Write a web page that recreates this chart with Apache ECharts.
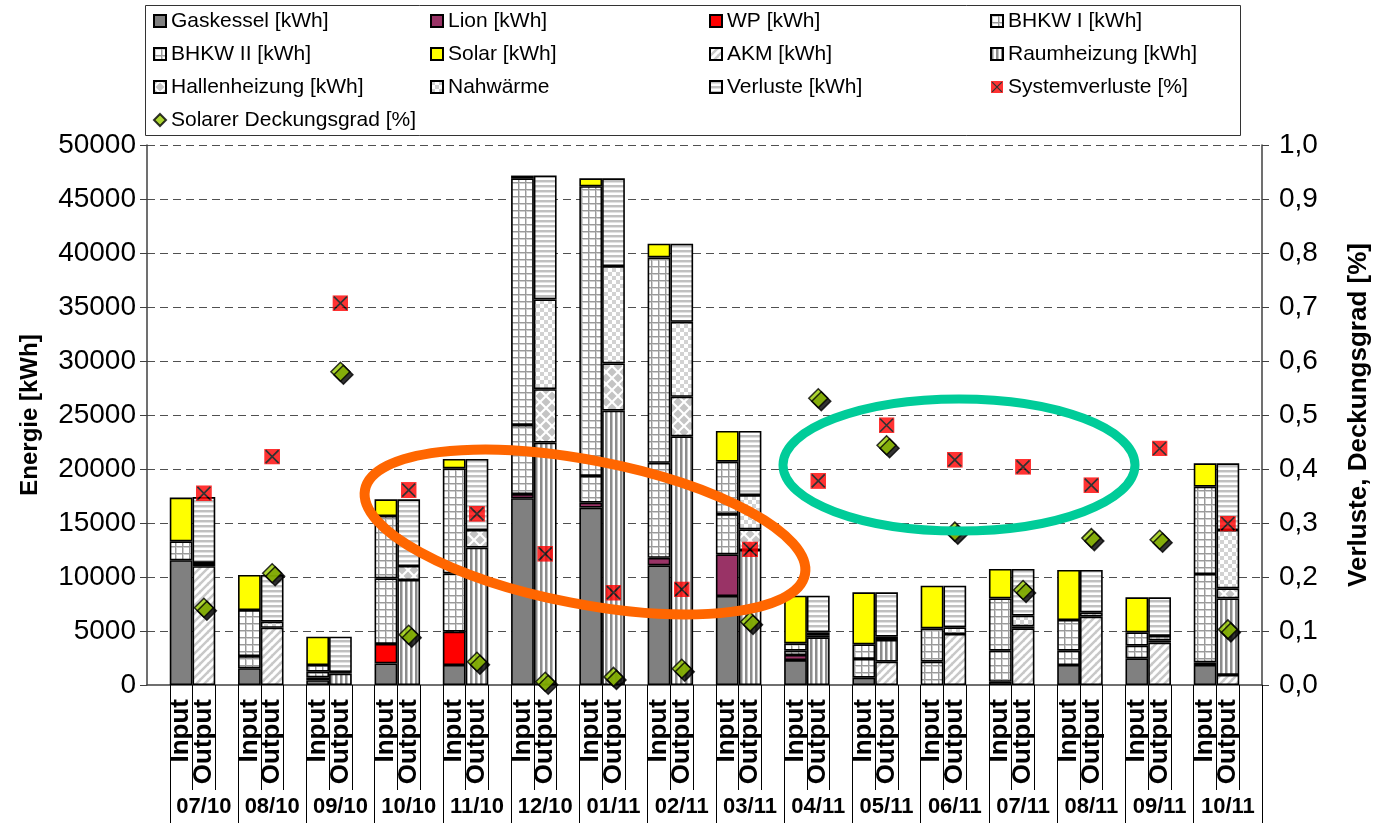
<!DOCTYPE html>
<html>
<head>
<meta charset="utf-8">
<script src="https://cdn.jsdelivr.net/npm/echarts@6/dist/echarts.min.js"></script>
<style>
  html, body { margin: 0; padding: 0; background: #fff; }
  #chart { width: 1380px; height: 823px; }
</style>
</head>
<body>
<div id="chart"></div>
<script>
// Monthly energy balance: inputs and outputs per month (kWh), plus loss / solar ratios
const months = ['07/10', '08/10', '09/10', '10/10', '11/10', '12/10', '01/11', '02/11',
                '03/11', '04/11', '05/11', '06/11', '07/11', '08/11', '09/11', '10/11'];

// Input side (kWh)
const gaskessel = [11550, 1550, 450, 2000, 1850, 17290, 16430, 11080, 8240, 2310, 680, 0, 300, 1850, 2470, 1850];
const lion      = [0, 0, 0, 0, 0, 390, 450, 700, 3860, 470, 0, 0, 0, 0, 0, 250];
const wp        = [0, 0, 250, 1800, 3090, 0, 0, 0, 0, 0, 0, 0, 0, 0, 0, 0];
const bhkw1     = [1750, 1130, 530, 6080, 5400, 6400, 2480, 8790, 3730, 400, 1730, 2160, 2880, 1330, 1170, 8180];
const bhkw2     = [0, 4260, 620, 5770, 9720, 22830, 26820, 19020, 4850, 680, 1360, 3090, 4840, 2840, 1240, 8080];
const solar     = [4050, 3250, 2620, 1540, 870, 260, 730, 1270, 2840, 4410, 4810, 3940, 2720, 4630, 3240, 2170];

// Output side (kWh)
const akm        = [11000, 5300, 0, 0, 0, 0, 0, 0, 0, 0, 2160, 4720, 5250, 6330, 3920, 930];
const raumheizung = [0, 0, 1050, 9720, 12720, 22450, 25410, 23030, 12500, 4410, 2010, 0, 0, 0, 0, 7090];
const hallenheizung = [0, 0, 0, 1300, 1630, 4940, 4370, 3660, 1910, 200, 0, 0, 170, 0, 220, 930];
const nahwaerme  = [300, 560, 150, 0, 0, 8310, 9010, 6940, 3180, 270, 300, 620, 1000, 370, 400, 5400];
const verluste   = [6100, 4330, 3270, 6170, 6580, 11470, 8120, 7230, 5930, 3390, 4110, 3850, 4320, 3950, 3580, 6180];

// Ratios (right axis)
const systemverluste = [0.355, 0.423, 0.707, 0.361, 0.317, 0.243, 0.171, 0.177, 0.251, 0.378, 0.481, 0.417, 0.404, 0.370, 0.438, 0.299];
const deckungsgrad   = [0.143, 0.207, 0.580, 0.093, 0.043, 0.006, 0.015, 0.030, 0.117, 0.531, 0.444, 0.284, 0.176, 0.272, 0.269, 0.103];

const subLabelNames = ['Input', 'Output'];

// Category slots: a blank spacer, then Input / Output / spacer for every month
const slots = [''];
const monthSlots = [''];
months.forEach(m => {
  slots.push(subLabelNames[0], subLabelNames[1], '');
  monthSlots.push('', m, '');
});

function place(values, offset) {
  const out = new Array(slots.length).fill('-');
  values.forEach((v, k) => { out[3 * k + offset] = v === 0 ? '-' : v; });
  return out;
}

// Fill patterns drawn on small tiles
function tile(w, h, draw) {
  const c = document.createElement('canvas');
  c.width = w; c.height = h;
  const ctx = c.getContext('2d');
  ctx.fillStyle = '#ffffff';
  ctx.fillRect(0, 0, w, h);
  draw(ctx, w, h);
  return { image: c, repeat: 'repeat' };
}
const gridFill = tile(7, 7, ctx => {
  ctx.fillStyle = '#cfcfcf'; ctx.fillRect(0, 1, 7, 1); ctx.fillRect(1, 0, 1, 7);
  ctx.fillStyle = '#9a9a9a'; ctx.fillRect(0, 0, 7, 1); ctx.fillRect(0, 0, 1, 7);
});
const vertFill = tile(5, 5, ctx => {
  ctx.fillStyle = '#8c8c8c'; ctx.fillRect(0, 0, 2, 5);
  ctx.fillStyle = '#c4c4c4'; ctx.fillRect(2, 0, 1, 5);
});
const horizFill = tile(5, 5, ctx => {
  ctx.fillStyle = '#c0c0c0'; ctx.fillRect(0, 0, 5, 2);
  ctx.fillStyle = '#e2e2e2'; ctx.fillRect(0, 2, 5, 1);
});
const checkFill = tile(8, 8, ctx => {
  ctx.fillStyle = '#d2d2d2'; ctx.fillRect(0, 0, 4, 4); ctx.fillRect(4, 4, 4, 4);
});
const diamondFill = tile(12, 12, ctx => {
  ctx.fillStyle = '#c4c4c4';
  [[6, 6], [0, 0], [12, 0], [0, 12], [12, 12]].forEach(([cx, cy]) => {
    ctx.beginPath();
    ctx.moveTo(cx, cy - 4.5); ctx.lineTo(cx + 4.5, cy); ctx.lineTo(cx, cy + 4.5); ctx.lineTo(cx - 4.5, cy);
    ctx.closePath(); ctx.fill();
  });
});
const diagFill = tile(8, 8, ctx => {
  ctx.strokeStyle = '#c8c8c8'; ctx.lineWidth = 2.5;
  [[-8, 8], [0, 8], [8, 8]].forEach(([ox]) => {
    ctx.beginPath(); ctx.moveTo(ox, 8); ctx.lineTo(ox + 8, 0); ctx.stroke();
  });
  ctx.beginPath(); ctx.moveTo(-4, 4); ctx.lineTo(4, -4); ctx.stroke();
  ctx.beginPath(); ctx.moveTo(4, 12); ctx.lineTo(12, 4); ctx.stroke();
});

const FONT = 'Liberation Sans, Arial, sans-serif';
const border = { borderColor: '#000', borderWidth: 1.6 };

function barSeries(name, values, offset, color) {
  return {
    type: 'bar', name, stack: 'energy', barCategoryGap: '0%',
    xAxisIndex: 0, yAxisIndex: 0,
    itemStyle: Object.assign({ color }, border),
    data: place(values, offset)
  };
}

const lossMark = 'image://data:image/svg+xml;utf8,' + encodeURIComponent(
  '<svg xmlns="http://www.w3.org/2000/svg" width="16" height="16">' +
  '<rect width="16" height="16" fill="#ff0000"/>' +
  '<path d="M1.5 1.5L14.5 14.5M14.5 1.5L1.5 14.5" stroke="#000" stroke-width="1.7"/></svg>');

const series = [
  barSeries('Gaskessel [kWh]', gaskessel, 1, '#808080'),
  barSeries('Lion [kWh]', lion, 1, '#993366'),
  barSeries('WP [kWh]', wp, 1, '#ff0000'),
  barSeries('BHKW I [kWh]', bhkw1, 1, gridFill),
  barSeries('BHKW II [kWh]', bhkw2, 1, gridFill),
  barSeries('Solar [kWh]', solar, 1, '#ffff00'),
  barSeries('AKM [kWh]', akm, 2, diagFill),
  barSeries('Raumheizung [kWh]', raumheizung, 2, vertFill),
  barSeries('Hallenheizung [kWh]', hallenheizung, 2, diamondFill),
  barSeries('Nahwärme', nahwaerme, 2, checkFill),
  barSeries('Verluste [kWh]', verluste, 2, horizFill),
  {
    type: 'scatter', name: 'Systemverluste [%]', xAxisIndex: 0, yAxisIndex: 1,
    symbol: lossMark, symbolSize: 16, z: 5,
    data: place(systemverluste, 2)
  },
  {
    type: 'scatter', name: 'Solarer Deckungsgrad [%]', xAxisIndex: 0, yAxisIndex: 1,
    symbol: 'diamond', symbolSize: 19, z: 6,
    itemStyle: { color: '#99cc00', borderColor: '#000', borderWidth: 1.5,
                 shadowColor: '#000', shadowBlur: 0, shadowOffsetX: 3, shadowOffsetY: 3 },
    data: place(deckungsgrad, 2)
  }
];

function legendColumn(left, names) {
  return {
    orient: 'vertical', left, top: 10, padding: 0,
    itemWidth: 12, itemHeight: 12, itemGap: 11, selectedMode: false,
    textStyle: { fontFamily: FONT, fontSize: 21, color: '#000', lineHeight: 22 },
    data: names.map(n => (n.indexOf('[%]') > 0 ? { name: n } : { name: n, icon: 'rect' }))
  };
}

const axisGray = '#404040';

const option = {
  animation: false,
  backgroundColor: '#fff',
  textStyle: { fontFamily: FONT },
  grid: { left: 147, right: 115, top: 145, bottom: 138, containLabel: false },
  legend: [
    legendColumn(153, ['Gaskessel [kWh]', 'BHKW II [kWh]', 'Hallenheizung [kWh]', 'Solarer Deckungsgrad [%]']),
    legendColumn(430, ['Lion [kWh]', 'Solar [kWh]', 'Nahwärme']),
    legendColumn(709, ['WP [kWh]', 'AKM [kWh]', 'Verluste [kWh]']),
    legendColumn(990, ['BHKW I [kWh]', 'Raumheizung [kWh]', 'Systemverluste [%]'])
  ],
  xAxis: [
    {
      type: 'category', data: slots, position: 'bottom',
      axisLine: { show: true, lineStyle: { color: axisGray, width: 1.5 } },
      axisTick: { show: true, interval: i => i > 0, length: 105, lineStyle: { color: '#000', width: 1 } },
      axisLabel: { interval: 0, rotate: 90, margin: 14, color: '#000',
                   fontFamily: FONT, fontSize: 26, fontWeight: 'bold' },
      splitLine: { show: false }
    },
    {
      type: 'category', data: monthSlots, position: 'bottom',
      axisLine: { show: false },
      axisTick: { show: true, interval: i => i % 3 === 1, length: 138, lineStyle: { color: '#000', width: 1 } },
      axisLabel: { interval: 0, margin: 111, color: '#000',
                   fontFamily: FONT, fontSize: 22, fontWeight: 'bold' },
      splitLine: { show: false }
    }
  ],
  yAxis: [
    {
      type: 'value', position: 'left', min: 0, max: 50000, interval: 5000,
      name: 'Energie [kWh]', nameLocation: 'middle', nameRotate: 90, nameGap: 105,
      nameTextStyle: { fontFamily: FONT, fontSize: 24, fontWeight: 'bold', color: '#000' },
      axisLine: { show: true, lineStyle: { color: axisGray, width: 1.5 } },
      axisTick: { show: true, length: 7, lineStyle: { color: axisGray } },
      axisLabel: { margin: 11, color: '#000', fontFamily: FONT, fontSize: 28,
                   formatter: v => String(v) },
      splitLine: { show: true, showMinLine: false,
                   lineStyle: { color: '#505050', width: 1, type: [8, 5] } }
    },
    {
      type: 'value', position: 'right', min: 0, max: 1, interval: 0.1,
      name: 'Verluste, Deckungsgrad [%]', nameLocation: 'middle', nameRotate: 90, nameGap: 84,
      nameTextStyle: { fontFamily: FONT, fontSize: 26, fontWeight: 'bold', color: '#000' },
      axisLine: { show: true, lineStyle: { color: axisGray, width: 1.5 } },
      axisTick: { show: true, length: 7, lineStyle: { color: axisGray } },
      axisLabel: { margin: 17, color: '#000', fontFamily: FONT, fontSize: 28,
                   formatter: v => v.toFixed(1).replace('.', ',') },
      splitLine: { show: false }
    }
  ],
  graphic: [
    { type: 'rect', z: 0, shape: { x: 145.5, y: 5.5, width: 1095, height: 130 },
      style: { fill: 'none', stroke: '#333', lineWidth: 1 } },
    { type: 'ellipse', z: 100, x: 585, y: 532, rotation: -0.19,
      shape: { cx: 0, cy: 0, rx: 224, ry: 72 },
      style: { fill: 'none', stroke: '#ff6600', lineWidth: 10 } },
    { type: 'ellipse', z: 100, x: 959, y: 465,
      shape: { cx: 0, cy: 0, rx: 176, ry: 66 },
      style: { fill: 'none', stroke: '#00cc99', lineWidth: 9 } }
  ],
  series
};

const chart = echarts.init(document.getElementById('chart'), null, { renderer: 'canvas' });
chart.setOption(option);
</script>
</body>
</html>
